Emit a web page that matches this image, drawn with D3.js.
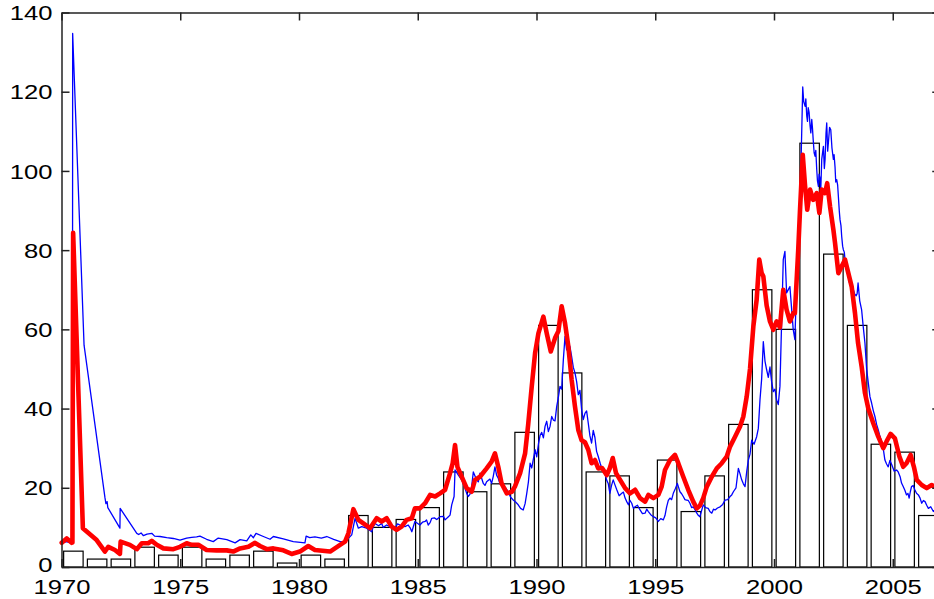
<!DOCTYPE html>
<html>
<head>
<meta charset="utf-8">
<script src="https://cdn.jsdelivr.net/npm/d3@7"></script>
<style>
  html, body { margin: 0; padding: 0; background: #fff; }
  svg { display: block; }
</style>
</head>
<body>
<svg id="chart" width="934" height="599"></svg>
<script>
// Yearly counts (one bar per calendar year)
const barYears = d3.range(1970, 2007);
const barCounts = [4, 2, 2, 5, 3, 5, 2, 3, 4, 1, 3, 2, 13, 10, 12, 15, 24, 19, 21, 34,
                   61, 49, 24, 23, 15, 27, 14, 23, 36, 70, 60, 107, 79, 61, 31, 29, 13];

// Fine-grained series (thin line): [decimal year, value]
const fineSeries = [
  [1970.00, 6.0], [1970.20, 6.4], [1970.44, 6.0], [1970.46, 6.2], [1970.47, 134.7],
  [1970.95, 56.0], [1971.83, 17.5], [1971.87, 16.0], [1971.92, 16.5], [1971.95, 15.0],
  [1972.46, 9.8], [1972.47, 14.8], [1973.17, 8.5], [1973.25, 8.2], [1973.35, 8.6],
  [1973.45, 7.9], [1973.60, 8.3], [1973.80, 8.5], [1973.92, 7.8], [1974.15, 7.7],
  [1974.43, 7.4], [1974.71, 7.2], [1974.99, 6.8], [1975.27, 7.3], [1975.48, 7.5],
  [1975.69, 7.6], [1975.83, 7.8], [1976.11, 7.0], [1976.39, 6.4], [1976.60, 7.3],
  [1976.96, 6.9], [1977.31, 6.1], [1977.52, 6.9], [1977.80, 6.6], [1977.97, 8.1],
  [1978.08, 7.4], [1978.19, 8.5], [1978.50, 7.7], [1978.78, 7.0], [1978.92, 7.7],
  [1979.34, 7.1], [1979.76, 6.4], [1980.25, 6.1], [1980.30, 7.8], [1980.45, 7.4],
  [1980.67, 7.6], [1980.94, 7.3], [1981.17, 7.7], [1981.46, 7.0], [1981.73, 6.4],
  [1981.94, 6.4], [1982.01, 6.8], [1982.22, 8.1], [1982.36, 12.3], [1982.50, 9.8],
  [1982.64, 10.2], [1982.85, 9.8], [1983.06, 8.9], [1983.13, 10.2], [1983.20, 11.0],
  [1983.35, 10.4], [1983.48, 11.0], [1983.55, 10.0], [1983.69, 10.6], [1983.83, 10.2],
  [1984.04, 9.8], [1984.15, 10.9], [1984.25, 10.6], [1984.46, 10.2], [1984.60, 10.6],
  [1984.68, 9.9], [1984.75, 8.9], [1984.88, 11.5], [1985.09, 10.6], [1985.20, 11.3],
  [1985.31, 11.5], [1985.37, 11.9], [1985.44, 10.6], [1985.52, 11.2], [1985.59, 12.3],
  [1985.70, 12.4], [1985.80, 12.0], [1985.94, 12.7], [1986.08, 12.8], [1986.15, 11.9],
  [1986.29, 12.7], [1986.36, 13.1], [1986.43, 15.7], [1986.53, 17.8], [1986.57, 24.5],
  [1986.71, 23.2], [1986.85, 22.0], [1986.99, 19.9], [1987.06, 18.6], [1987.13, 17.8],
  [1987.20, 18.4], [1987.27, 20.3], [1987.34, 24.0], [1987.41, 23.0], [1987.48, 22.0],
  [1987.55, 21.5], [1987.62, 23.7], [1987.69, 22.4], [1987.76, 21.1], [1987.83, 20.6],
  [1987.90, 21.5], [1988.04, 22.2], [1988.11, 21.1], [1988.18, 22.9], [1988.25, 25.3],
  [1988.32, 23.2], [1988.39, 22.4], [1988.46, 21.0], [1988.60, 20.3], [1988.70, 20.0],
  [1988.81, 19.0], [1988.91, 17.6], [1989.02, 16.9], [1989.12, 16.4], [1989.23, 15.7],
  [1989.33, 14.8], [1989.44, 14.4], [1989.52, 16.0], [1989.59, 18.6], [1989.66, 21.5],
  [1989.73, 26.2], [1989.80, 25.0], [1989.94, 29.6], [1990.01, 27.8], [1990.08, 31.0],
  [1990.15, 33.2], [1990.22, 34.0], [1990.29, 32.6], [1990.36, 35.5], [1990.43, 36.8],
  [1990.50, 34.2], [1990.57, 35.5], [1990.64, 38.0], [1990.71, 37.1], [1990.78, 36.9],
  [1990.85, 40.5], [1990.92, 42.8], [1990.99, 45.6], [1991.06, 44.9], [1991.13, 52.3],
  [1991.20, 58.2], [1991.27, 54.8], [1991.34, 56.5], [1991.41, 55.6], [1991.48, 53.1],
  [1991.55, 50.4], [1991.62, 49.0], [1991.69, 46.8], [1991.76, 43.5], [1991.83, 44.6],
  [1991.90, 39.7], [1991.97, 37.2], [1992.04, 38.8], [1992.11, 39.4], [1992.18, 36.3],
  [1992.25, 33.1], [1992.32, 31.3], [1992.39, 34.5], [1992.46, 32.7], [1992.53, 29.2],
  [1992.60, 27.9], [1992.68, 26.2], [1992.75, 24.9], [1992.82, 25.0], [1992.88, 23.7],
  [1992.95, 22.0], [1993.02, 21.1], [1993.09, 18.6], [1993.16, 20.6], [1993.23, 22.0],
  [1993.30, 20.8], [1993.38, 19.5], [1993.48, 18.0], [1993.59, 18.6], [1993.66, 18.9],
  [1993.73, 17.4], [1993.80, 16.5], [1993.87, 15.7], [1993.94, 16.8], [1994.01, 16.1],
  [1994.08, 14.8], [1994.15, 15.2], [1994.25, 15.6], [1994.36, 14.4], [1994.46, 13.5],
  [1994.57, 13.6], [1994.64, 14.6], [1994.71, 14.0], [1994.81, 13.2], [1994.92, 12.7],
  [1995.02, 12.4], [1995.13, 11.5], [1995.23, 12.2], [1995.34, 11.9], [1995.41, 13.0],
  [1995.48, 15.2], [1995.55, 16.8], [1995.62, 17.4], [1995.69, 17.0], [1995.76, 18.6],
  [1995.85, 19.8], [1995.93, 21.1], [1996.04, 19.0], [1996.11, 18.5], [1996.18, 17.8],
  [1996.25, 17.0], [1996.32, 16.9], [1996.39, 16.8], [1996.46, 16.1], [1996.53, 15.0],
  [1996.60, 15.2], [1996.68, 14.4], [1996.75, 13.6], [1996.82, 13.0], [1996.88, 12.7],
  [1996.95, 14.2], [1997.02, 15.7], [1997.12, 15.0], [1997.23, 14.8], [1997.30, 14.0],
  [1997.38, 13.6], [1997.45, 14.6], [1997.52, 14.4], [1997.62, 14.9], [1997.73, 15.2],
  [1997.84, 15.8], [1997.94, 16.9], [1998.05, 17.0], [1998.15, 17.8], [1998.22, 18.2],
  [1998.29, 19.0], [1998.40, 20.0], [1998.50, 24.9], [1998.57, 23.5], [1998.64, 22.0],
  [1998.71, 21.0], [1998.78, 20.3], [1998.85, 24.0], [1998.92, 27.0], [1998.99, 28.5],
  [1999.06, 32.0], [1999.16, 31.0], [1999.27, 32.9], [1999.34, 35.0], [1999.41, 42.2],
  [1999.48, 47.5], [1999.55, 56.9], [1999.62, 52.0], [1999.69, 49.8], [1999.76, 47.9],
  [1999.83, 50.5], [1999.90, 46.8], [1999.97, 44.3], [2000.04, 44.9], [2000.11, 42.2],
  [2000.18, 41.0], [2000.25, 45.6], [2000.39, 77.6], [2000.46, 79.7], [2000.53, 69.2],
  [2000.67, 70.8], [2000.81, 59.9], [2000.88, 57.4], [2000.96, 73.4], [2001.02, 79.3],
  [2001.09, 89.4], [2001.21, 121.2], [2001.25, 117.5], [2001.31, 116.3], [2001.34, 118.2],
  [2001.38, 113.8], [2001.41, 112.5], [2001.44, 116.0], [2001.48, 114.7], [2001.52, 111.3],
  [2001.55, 109.6], [2001.59, 113.0], [2001.62, 110.8], [2001.65, 107.9], [2001.69, 104.6],
  [2001.73, 103.7], [2001.76, 105.2], [2001.80, 100.3], [2001.83, 97.5], [2001.87, 96.1],
  [2001.90, 99.2], [2001.94, 98.0], [2001.97, 95.4], [2002.01, 102.9], [2002.05, 104.8],
  [2002.08, 106.2], [2002.12, 100.6], [2002.15, 102.9], [2002.19, 109.5], [2002.22, 112.1],
  [2002.26, 105.0], [2002.29, 107.1], [2002.34, 111.0], [2002.39, 110.4], [2002.44, 105.8],
  [2002.50, 102.9], [2002.53, 104.1], [2002.57, 101.0], [2002.60, 97.2], [2002.64, 97.8],
  [2002.68, 96.4], [2002.71, 93.6], [2002.75, 89.8], [2002.78, 87.7], [2002.82, 86.2],
  [2002.85, 83.5], [2002.89, 81.0], [2002.92, 80.1], [2002.96, 79.5], [2002.99, 77.6],
  [2003.05, 76.0], [2003.12, 74.5], [2003.16, 72.0], [2003.20, 73.4], [2003.27, 71.5],
  [2003.34, 70.0], [2003.40, 68.9], [2003.46, 68.5], [2003.50, 69.0], [2003.54, 71.7],
  [2003.61, 67.2], [2003.69, 64.9], [2003.76, 60.5], [2003.83, 56.5], [2003.90, 50.0],
  [2003.97, 46.5], [2004.04, 43.0], [2004.11, 41.4], [2004.18, 39.5], [2004.25, 38.0],
  [2004.32, 36.0], [2004.39, 34.6], [2004.46, 33.0], [2004.53, 31.7], [2004.60, 29.9],
  [2004.67, 27.0], [2004.74, 26.0], [2004.81, 25.3], [2004.88, 26.9], [2004.96, 25.8],
  [2005.06, 24.2], [2005.16, 24.5], [2005.23, 24.0], [2005.31, 22.8], [2005.37, 21.2],
  [2005.44, 20.3], [2005.51, 19.4], [2005.58, 18.2], [2005.64, 18.6], [2005.69, 17.4],
  [2005.74, 19.0], [2005.79, 20.3], [2005.86, 20.6], [2005.93, 19.5], [2006.00, 18.6],
  [2006.08, 18.2], [2006.15, 17.4], [2006.22, 16.1], [2006.29, 16.8], [2006.36, 16.5],
  [2006.43, 15.6], [2006.50, 14.8], [2006.60, 15.2], [2006.71, 14.0], [2006.80, 14.6],
  [2006.90, 13.6]
];

// Smoothed series (thick line): [decimal year, value]
const smoothSeries = [
  [1970.01, 6.1], [1970.22, 7.2], [1970.43, 6.1], [1970.46, 6.2], [1970.49, 84.4],
  [1970.90, 9.8], [1971.48, 6.8], [1971.83, 3.9], [1971.97, 5.1], [1972.25, 4.3],
  [1972.46, 3.3], [1972.49, 6.4], [1972.88, 5.6], [1973.17, 4.5], [1973.38, 6.0],
  [1973.65, 6.0], [1973.80, 6.6], [1974.01, 5.6], [1974.29, 4.7], [1974.71, 4.5],
  [1974.99, 5.1], [1975.27, 6.0], [1975.48, 5.6], [1975.76, 5.6], [1976.11, 4.3],
  [1976.53, 4.2], [1976.96, 4.2], [1977.23, 3.9], [1977.52, 4.7], [1977.87, 5.1],
  [1978.15, 6.1], [1978.36, 5.3], [1978.64, 4.5], [1978.92, 4.7], [1979.34, 4.2],
  [1979.69, 3.3], [1980.04, 3.9], [1980.39, 5.3], [1980.67, 4.3], [1981.31, 3.9],
  [1981.73, 5.6], [1981.94, 6.4], [1982.08, 8.5], [1982.29, 14.6], [1982.50, 11.9],
  [1982.71, 11.0], [1982.99, 9.8], [1983.27, 12.3], [1983.48, 11.5], [1983.69, 12.3],
  [1983.90, 10.2], [1984.11, 9.4], [1984.32, 10.2], [1984.53, 11.9], [1984.75, 12.3],
  [1984.88, 14.8], [1985.09, 14.8], [1985.31, 16.1], [1985.52, 18.2], [1985.73, 17.8],
  [1985.94, 18.6], [1986.15, 19.5], [1986.36, 23.7], [1986.47, 26.2], [1986.57, 30.8],
  [1986.67, 25.3], [1986.85, 22.8], [1987.06, 19.9], [1987.27, 19.0], [1987.41, 22.0],
  [1987.62, 22.8], [1987.90, 24.9], [1988.11, 26.6], [1988.25, 28.7], [1988.39, 25.3],
  [1988.53, 21.1], [1988.75, 18.6], [1988.96, 19.0], [1989.09, 20.3], [1989.31, 23.7],
  [1989.52, 28.7], [1989.65, 36.0], [1989.80, 45.6], [1989.94, 54.0], [1990.08, 59.0],
  [1990.29, 63.2], [1990.43, 59.0], [1990.60, 54.4], [1990.78, 57.8], [1990.92, 59.5],
  [1991.06, 65.8], [1991.20, 61.6], [1991.34, 55.7], [1991.48, 47.3], [1991.62, 40.5],
  [1991.76, 34.6], [1991.90, 32.0], [1992.04, 31.5], [1992.18, 29.6], [1992.32, 26.2],
  [1992.46, 27.0], [1992.60, 24.9], [1992.76, 25.0], [1992.96, 23.2], [1993.09, 25.0],
  [1993.21, 27.5], [1993.35, 23.7], [1993.52, 22.0], [1993.73, 19.9], [1993.94, 18.6],
  [1994.15, 19.5], [1994.36, 17.4], [1994.57, 16.5], [1994.71, 18.2], [1994.92, 17.4],
  [1995.13, 18.2], [1995.27, 20.3], [1995.41, 24.5], [1995.62, 27.0], [1995.83, 28.3],
  [1995.97, 26.2], [1996.18, 22.8], [1996.39, 19.5], [1996.60, 16.5], [1996.75, 14.8],
  [1996.88, 15.5], [1997.02, 17.4], [1997.17, 20.3], [1997.38, 22.8], [1997.59, 24.9],
  [1997.80, 26.2], [1998.01, 27.9], [1998.15, 30.4], [1998.36, 32.9], [1998.57, 35.5],
  [1998.71, 38.0], [1998.85, 43.0], [1998.99, 50.0], [1999.13, 60.7], [1999.27, 67.5],
  [1999.38, 77.6], [1999.48, 74.2], [1999.55, 73.4], [1999.69, 66.0], [1999.83, 62.0],
  [1999.97, 59.9], [2000.11, 62.0], [2000.25, 60.5], [2000.39, 70.0], [2000.53, 65.0],
  [2000.67, 62.0], [2000.81, 64.1], [2000.88, 64.1], [2001.02, 80.0], [2001.09, 89.4],
  [2001.21, 104.1], [2001.31, 96.1], [2001.40, 90.2], [2001.52, 95.3], [2001.65, 92.7],
  [2001.80, 94.4], [2001.91, 89.4], [2002.01, 95.3], [2002.15, 94.4], [2002.24, 96.9],
  [2002.36, 91.0], [2002.50, 85.2], [2002.57, 81.8], [2002.71, 74.2], [2002.85, 75.9],
  [2002.99, 77.6], [2003.13, 74.2], [2003.27, 70.8], [2003.41, 64.1], [2003.54, 56.5],
  [2003.69, 50.6], [2003.83, 43.9], [2003.97, 40.0], [2004.18, 36.3], [2004.39, 32.9],
  [2004.60, 30.0], [2004.74, 31.7], [2004.91, 33.6], [2005.09, 32.5], [2005.28, 27.9],
  [2005.44, 25.3], [2005.58, 26.2], [2005.75, 28.3], [2005.89, 25.3], [2006.01, 22.0],
  [2006.22, 20.7], [2006.43, 19.9], [2006.64, 20.7], [2006.82, 20.0]
];

const xTickYears = [1970, 1975, 1980, 1985, 1990, 1995, 2000, 2005];
const yTickValues = [0, 20, 40, 60, 80, 100, 120, 140];

// ---- layout ----
const svg = d3.select("#chart");
const plot = { left: 61.5, top: 12.5, right: 940.25, bottom: 567 };

const x = d3.scaleLinear().domain([1970, 2007]).range([plot.left, plot.right]);
const y = d3.scaleLinear().domain([0, 140]).range([plot.bottom, plot.top]);

const barWidth = 0.82; // in years

// bars: white boxes with black outline, centred on mid-year
svg.append("g")
  .selectAll("rect")
  .data(barYears.map((yr, i) => ({ yr, v: barCounts[i] })))
  .join("rect")
  .attr("x", d => x(d.yr + 0.5 - barWidth / 2))
  .attr("width", d => x(d.yr + 0.5 + barWidth / 2) - x(d.yr + 0.5 - barWidth / 2))
  .attr("y", d => y(d.v))
  .attr("height", d => y(0) - y(d.v))
  .attr("fill", "#fff")
  .attr("stroke", "#000")
  .attr("stroke-width", 1.2);

const line = d3.line().x(d => x(d[0])).y(d => y(d[1]));

svg.append("path")
  .datum(fineSeries)
  .attr("d", line)
  .attr("fill", "none")
  .attr("stroke", "#0000ff")
  .attr("stroke-width", 1.3)
  .attr("stroke-linejoin", "round");

svg.append("path")
  .datum(smoothSeries)
  .attr("d", line)
  .attr("fill", "none")
  .attr("stroke", "#ff0000")
  .attr("stroke-width", 4.6)
  .attr("stroke-linejoin", "round")
  .attr("stroke-linecap", "round");

// ---- axes (box with inward ticks) ----
const tickLen = 8;
const fontSize = 21;
const stretch = 1.22;
const fontFamily = "'Liberation Sans', Arial, Helvetica, sans-serif";

function styleAxis(g) {
  g.select(".domain").attr("stroke", "#222").attr("stroke-width", 1.5);
  g.selectAll(".tick line").attr("stroke", "#222").attr("stroke-width", 1.5);
}

const gBottom = svg.append("g")
  .attr("transform", `translate(0,${plot.bottom})`)
  .call(d3.axisBottom(x).tickValues(xTickYears).tickFormat(d3.format("d"))
    .tickSizeInner(-tickLen).tickSizeOuter(0));
styleAxis(gBottom);
gBottom.selectAll(".tick text")
  .attr("x", 0).attr("y", 0).attr("dy", 0)
  .attr("transform", `translate(0,26.5) scale(${stretch},1)`)
  .attr("text-anchor", "middle")
  .attr("fill", "#000")
  .style("font-family", fontFamily)
  .style("font-size", fontSize + "px");

const gLeft = svg.append("g")
  .attr("transform", `translate(${plot.left},0)`)
  .call(d3.axisLeft(y).tickValues(yTickValues).tickFormat(d3.format("d"))
    .tickSizeInner(-tickLen).tickSizeOuter(0));
styleAxis(gLeft);
// the lowest label sits a little higher so it clears the year labels
gLeft.selectAll(".tick text")
  .attr("x", 0).attr("y", 0).attr("dy", "0.34em")
  .attr("transform", d => `translate(-9,${d === 0 ? -2.5 : 0}) scale(${stretch},1)`)
  .attr("text-anchor", "end")
  .attr("fill", "#000")
  .style("font-family", fontFamily)
  .style("font-size", fontSize + "px");

const gTop = svg.append("g")
  .attr("transform", `translate(0,${plot.top})`)
  .call(d3.axisTop(x).tickValues(xTickYears).tickFormat("")
    .tickSizeInner(-tickLen).tickSizeOuter(0));
styleAxis(gTop);

const gRight = svg.append("g")
  .attr("transform", `translate(${plot.right},0)`)
  .call(d3.axisRight(y).tickValues(yTickValues).tickFormat("")
    .tickSizeInner(-tickLen).tickSizeOuter(0));
styleAxis(gRight);
</script>
</body>
</html>
